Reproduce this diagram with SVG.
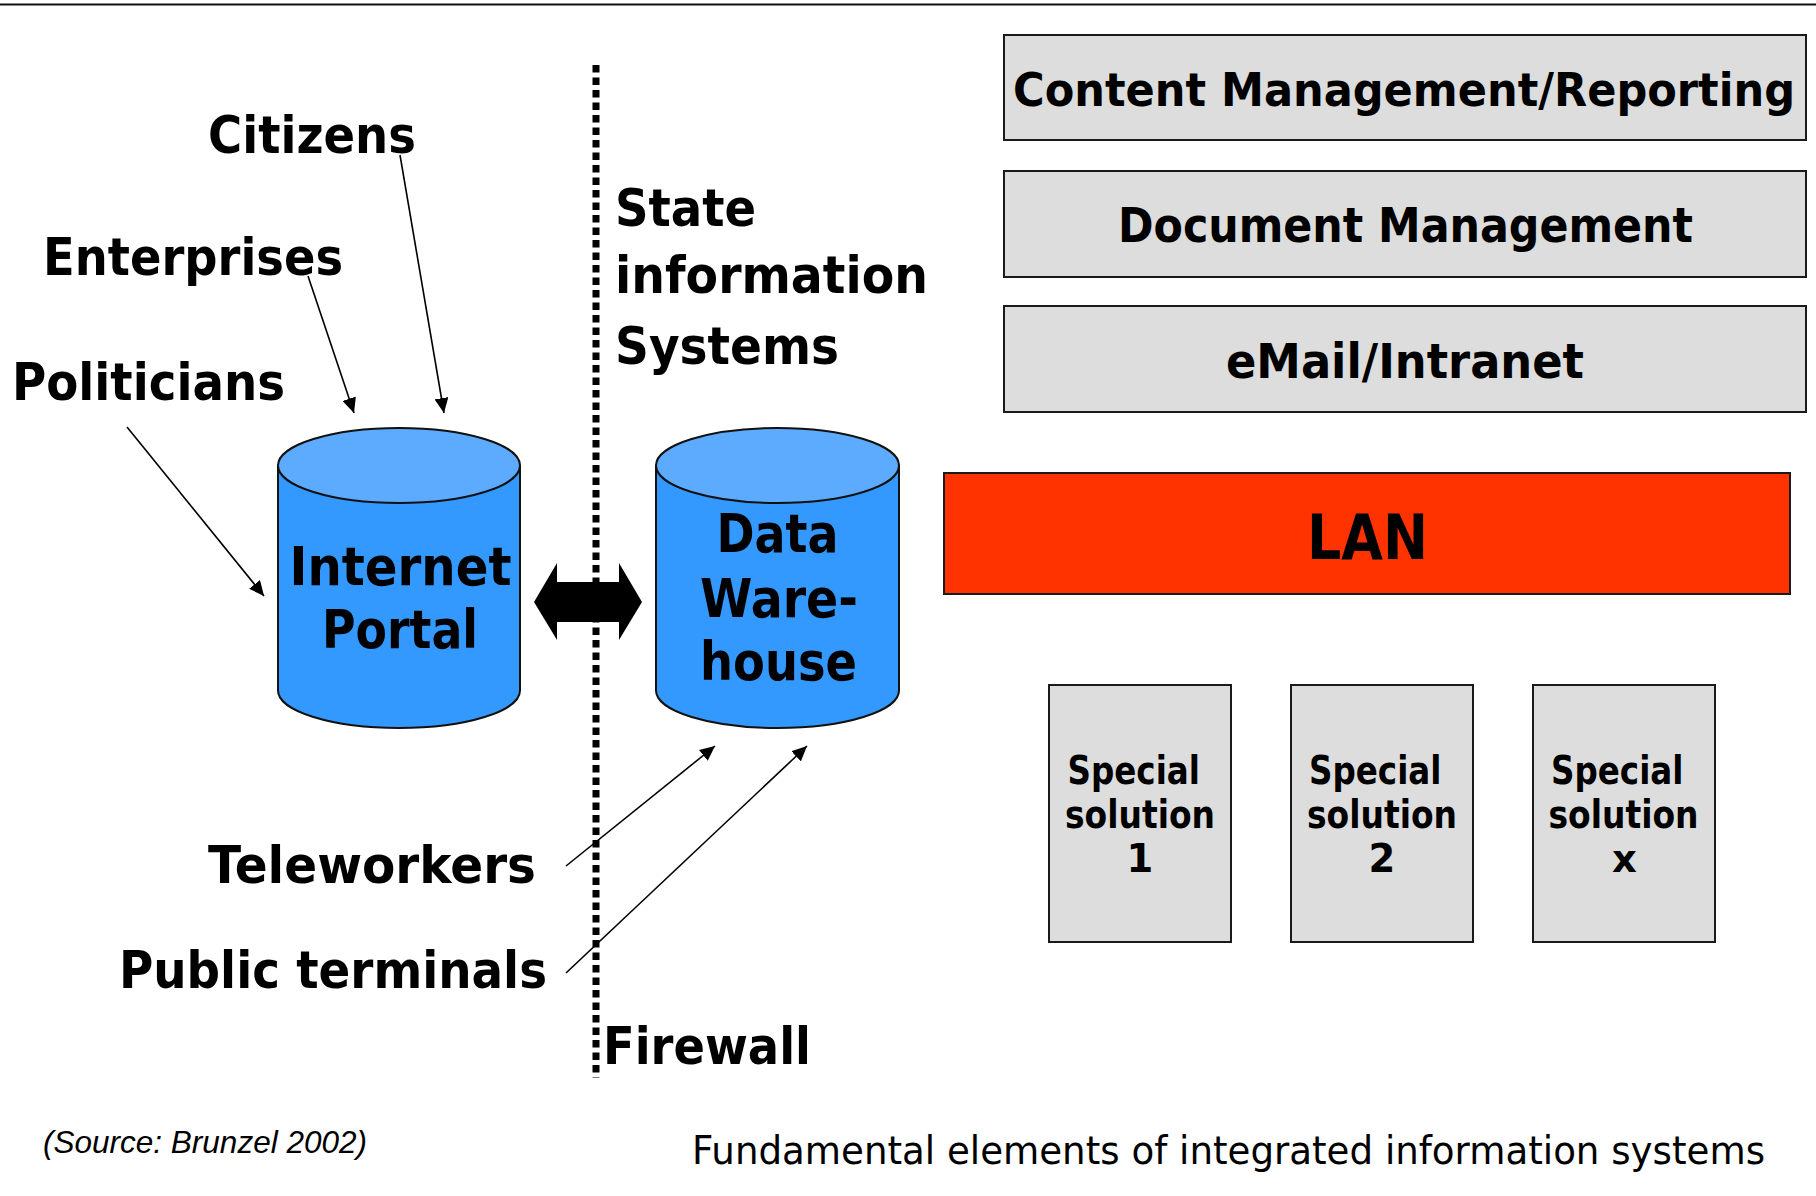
<svg xmlns="http://www.w3.org/2000/svg" width="1816" height="1196" viewBox="0 0 1816 1196">
  <style>
    .lbl { font-family: "DejaVu Sans", Verdana, sans-serif; font-weight: bold; fill: #000; }
    .box { fill: #dddddd; stroke: #1a1a1a; stroke-width: 2; }
    .lan { fill: #ff3300; stroke: #1a1a1a; stroke-width: 2; }
    .cyl-body { fill: #3399ff; stroke: #111; stroke-width: 2; }
    .cyl-top { fill: #5cabff; stroke: #111; stroke-width: 2; }
    .conn { stroke: #000; stroke-width: 1.6; fill: none; marker-end: url(#head); }
    .foot { font-family: "DejaVu Sans", Verdana, sans-serif; fill: #000; }
    .src { font-family: "Liberation Sans", Arial, sans-serif; font-style: italic; fill: #000; }
  </style>
  <defs>
    <marker id="head" markerUnits="userSpaceOnUse" markerWidth="16" markerHeight="14" refX="15" refY="7" orient="auto">
      <path d="M0,0 L15,7 L0,14 Z" fill="#000"/>
    </marker>
  </defs>

  <rect width="1816" height="1196" fill="#fff"/>
  <!-- top rule -->
  <line x1="0" y1="4.5" x2="1816" y2="4.5" stroke="#111" stroke-width="2"/>

  <!-- firewall boundary -->
  <line id="firewall-line" x1="596" y1="65" x2="596" y2="1078" stroke="#000" stroke-width="7" stroke-dasharray="7.5 5"/>

  <!-- user groups -->
  <g id="citizens"><text class="lbl" x="208" y="153" font-size="52" textLength="208" lengthAdjust="spacingAndGlyphs">Citizens</text></g>
  <g id="enterprises"><text class="lbl" x="43" y="275" font-size="52" textLength="300" lengthAdjust="spacingAndGlyphs">Enterprises</text></g>
  <g id="politicians"><text class="lbl" x="12" y="400" font-size="52" textLength="273" lengthAdjust="spacingAndGlyphs">Politicians</text></g>
  <g id="teleworkers"><text class="lbl" x="208" y="883" font-size="52" textLength="328" lengthAdjust="spacingAndGlyphs">Teleworkers</text></g>
  <g id="public-terminals"><text class="lbl" x="119" y="988" font-size="52" textLength="428" lengthAdjust="spacingAndGlyphs">Public terminals</text></g>

  <!-- zone labels -->
  <g id="state-is">
    <text class="lbl" x="615" y="226" font-size="52" textLength="141" lengthAdjust="spacingAndGlyphs">State</text>
    <text class="lbl" x="615" y="293" font-size="52" textLength="313" lengthAdjust="spacingAndGlyphs">information</text>
    <text class="lbl" x="615" y="364" font-size="52" textLength="224" lengthAdjust="spacingAndGlyphs">Systems</text>
  </g>
  <g id="firewall"><text class="lbl" x="603" y="1064" font-size="52" textLength="208" lengthAdjust="spacingAndGlyphs">Firewall</text></g>

  <!-- Internet Portal cylinder -->
  <g id="internet-portal">
    <path class="cyl-body" d="M278,465.5 L278,690.5 A121,37.5 0 0 0 520,690.5 L520,465.5 Z"/>
    <ellipse class="cyl-top" cx="399" cy="465.5" rx="121" ry="37.5"/>
    <text class="lbl" x="289.5" y="585" font-size="52.5" textLength="222" lengthAdjust="spacingAndGlyphs">Internet</text>
    <text class="lbl" x="322" y="648" font-size="52.5" textLength="156" lengthAdjust="spacingAndGlyphs">Portal</text>
  </g>

  <!-- Data Warehouse cylinder -->
  <g id="data-warehouse">
    <path class="cyl-body" d="M656,465.5 L656,690.5 A121.5,37.5 0 0 0 899,690.5 L899,465.5 Z"/>
    <ellipse class="cyl-top" cx="777.5" cy="465.5" rx="121.5" ry="37.5"/>
    <text class="lbl" x="716.5" y="552" font-size="52.5" textLength="122" lengthAdjust="spacingAndGlyphs">Data</text>
    <text class="lbl" x="700" y="617" font-size="52.5" textLength="158" lengthAdjust="spacingAndGlyphs">Ware-</text>
    <text class="lbl" x="700" y="680" font-size="52.5" textLength="157" lengthAdjust="spacingAndGlyphs">house</text>
  </g>

  <!-- application layers -->
  <g id="content-management">
    <rect class="box" x="1004" y="35" width="802" height="105"/>
    <text class="lbl" x="1013" y="106" font-size="47" textLength="782" lengthAdjust="spacingAndGlyphs">Content Management/Reporting</text>
  </g>
  <g id="document-management">
    <rect class="box" x="1004" y="171" width="802" height="106"/>
    <text class="lbl" x="1118" y="242" font-size="48" textLength="575" lengthAdjust="spacingAndGlyphs">Document Management</text>
  </g>
  <g id="email-intranet">
    <rect class="box" x="1004" y="306" width="802" height="106"/>
    <text class="lbl" x="1226" y="378" font-size="48" textLength="358" lengthAdjust="spacingAndGlyphs">eMail/Intranet</text>
  </g>
  <g id="lan">
    <rect class="lan" x="944" y="473" width="846" height="121"/>
    <text class="lbl" x="1307" y="559" font-size="63" textLength="121" lengthAdjust="spacingAndGlyphs">LAN</text>
  </g>

  <!-- special solutions -->
  <g id="special-1">
    <rect class="box" x="1049" y="685" width="182" height="257"/>
    <text class="lbl" x="1067.5" y="784" font-size="38.5" textLength="132.5" lengthAdjust="spacingAndGlyphs">Special</text>
    <text class="lbl" x="1065" y="828" font-size="38.5" textLength="150" lengthAdjust="spacingAndGlyphs">solution</text>
    <text class="lbl" x="1140" y="872" font-size="38.5" text-anchor="middle">1</text>
  </g>
  <g id="special-2">
    <rect class="box" x="1291" y="685" width="182" height="257"/>
    <text class="lbl" x="1309" y="784" font-size="38.5" textLength="132.5" lengthAdjust="spacingAndGlyphs">Special</text>
    <text class="lbl" x="1307" y="828" font-size="38.5" textLength="150" lengthAdjust="spacingAndGlyphs">solution</text>
    <text class="lbl" x="1382" y="872" font-size="38.5" text-anchor="middle">2</text>
  </g>
  <g id="special-x">
    <rect class="box" x="1533" y="685" width="182" height="257"/>
    <text class="lbl" x="1551" y="784" font-size="38.5" textLength="132.5" lengthAdjust="spacingAndGlyphs">Special</text>
    <text class="lbl" x="1548.5" y="828" font-size="38.5" textLength="150" lengthAdjust="spacingAndGlyphs">solution</text>
    <text class="lbl" x="1624.5" y="872" font-size="38.5" text-anchor="middle">x</text>
  </g>

  <!-- connectors -->
  <g id="connectors">
    <line class="conn" x1="400" y1="155" x2="444" y2="413"/>
    <line class="conn" x1="308" y1="276" x2="354" y2="413"/>
    <line class="conn" x1="127" y1="427" x2="264" y2="596"/>
    <line class="conn" x1="566" y1="866" x2="715" y2="746"/>
    <line class="conn" x1="566" y1="973" x2="807" y2="746"/>
    <polygon id="portal-warehouse" points="534,602 557,563 557,582 619,582 619,563 642,602 619,640 619,622 557,622 557,640" fill="#000"/>
  </g>

  <!-- captions -->
  <text class="src" x="43" y="1153" font-size="31.5" textLength="324" lengthAdjust="spacingAndGlyphs">(Source: Brunzel 2002)</text>
  <text class="foot" x="692" y="1164" font-size="38.5" textLength="1073" lengthAdjust="spacingAndGlyphs">Fundamental elements of integrated information systems</text>
</svg>
